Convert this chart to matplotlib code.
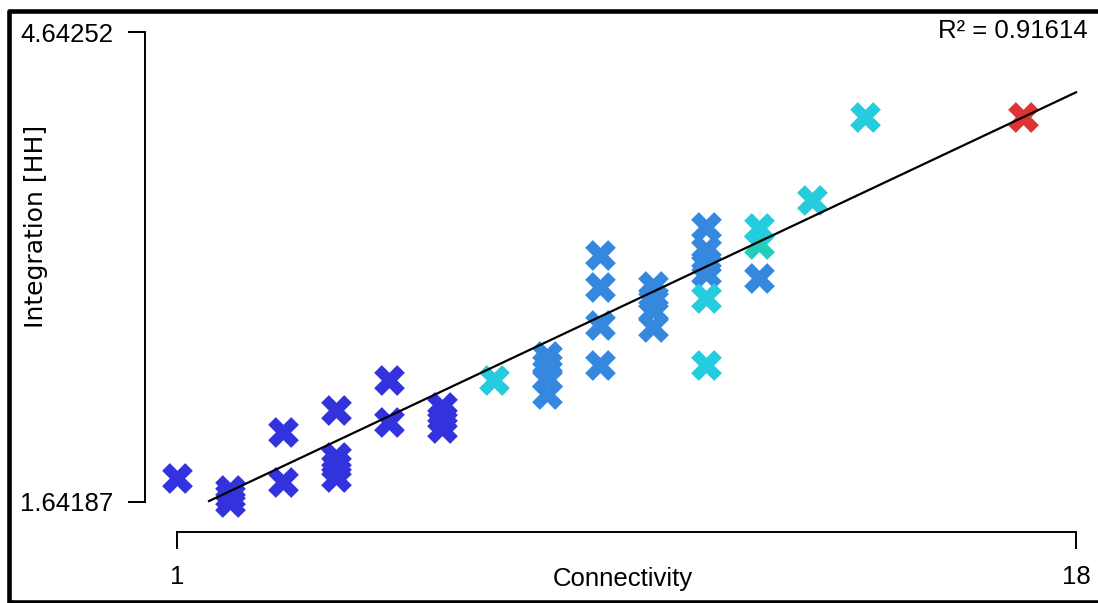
import matplotlib
matplotlib.use("Agg")
import matplotlib.pyplot as plt
from matplotlib.lines import Line2D

# data
conn = [1, 2, 2, 2, 3, 3, 4, 4, 4, 4, 5, 5, 6, 6, 6, 7,
        8, 8, 8, 8, 9, 9, 9, 9, 10, 10, 10, 10,
        11, 11, 11, 11, 11, 11, 12, 12, 12, 13, 14, 17]
integ = [1.793, 1.717, 1.680, 1.642, 2.089, 1.770, 2.228, 1.928, 1.870, 1.800,
         2.420, 2.153, 2.247, 2.177, 2.113, 2.420,
         2.573, 2.516, 2.433, 2.330, 3.219, 3.016, 2.771, 2.516,
         3.021, 2.944, 2.867, 2.759,
         3.398, 3.251, 3.174, 3.104, 2.944, 2.516, 3.391, 3.289, 3.075,
         3.570, 4.103, 4.103]
group = ["dark", "dark", "dark", "dark", "dark", "dark", "dark", "dark", "dark", "dark",
         "dark", "dark", "dark", "dark", "dark", "cyan",
         "blue", "blue", "blue", "blue", "blue", "blue", "blue", "blue",
         "blue", "blue", "blue", "blue",
         "blue", "blue", "blue", "blue", "cyan", "cyan", "cyan", "green", "blue",
         "cyan", "cyan", "red"]
group_colours = {"dark": "#3333dd", "blue": "#3588dd", "green": "#24ccbb",
                 "cyan": "#24ccdd", "red": "#dd3333"}
draw_order = ["dark", "blue", "green", "cyan", "red"]

# regression line end points
fit_x = [1.6, 18]
fit_y = [1.646, 4.259]
r2_text = "R\u00b2 = 0.91614"

y_min, y_max = 1.64187, 4.64252
x_min, x_max = 1, 18

narrow = ["Liberation Sans Narrow", "Liberation Sans", "DejaVu Sans"]

fig = plt.figure(figsize=(10.98, 6.03), dpi=100)
ax = fig.add_axes([177.3 / 1098, 1 - 501.7 / 603, (1076 - 177.3) / 1098, 469.4 / 603])

for g in draw_order:
    xs = [c for c, k in zip(conn, group) if k == g]
    ys = [v for v, k in zip(integ, group) if k == g]
    ax.scatter(xs, ys, marker="X", s=490, color=group_colours[g],
               linewidths=0, clip_on=False, zorder=2)

ax.plot(fit_x, fit_y, color="black", lw=1.6, clip_on=False, zorder=3)

ax.set_xlim(x_min, x_max)
ax.set_ylim(y_min, y_max)
ax.set_xticks([x_min, x_max])
ax.set_xticklabels(["1", "18"])
ax.set_yticks([y_min, y_max])
ax.set_yticklabels(["1.64187", "4.64252"])

for side in ["top", "right"]:
    ax.spines[side].set_visible(False)
ax.spines["left"].set_position(("outward", 23))
ax.spines["bottom"].set_position(("outward", 21.6))
ax.spines["left"].set_linewidth(1.4)
ax.spines["bottom"].set_linewidth(1.4)
ax.tick_params(axis="both", direction="out", length=12, width=1.4)
ax.tick_params(axis="y", pad=11)
ax.tick_params(axis="x", pad=12)
for lab in ax.get_xticklabels() + ax.get_yticklabels():
    lab.set_family(narrow)
    lab.set_fontsize(18.5)

fig.text(623 / 1098, 1 - 579 / 603, "Connectivity", ha="center", va="center",
         family=narrow, fontsize=18.5)
fig.text(36 / 1098, 1 - 226 / 603, "Integration [HH]", ha="center", va="center",
         rotation=90, family="DejaVu Sans", fontsize=18)
fig.text(1088 / 1098, 1 - 31 / 603, r2_text, ha="right", va="center",
         family=narrow, fontsize=18.5)

# outer frame (left, top, bottom)
W, H = 1098, 603
fx = [1098 / W, 9.3 / W, 9.3 / W, 1098 / W]
fy = [1 - 10.5 / H, 1 - 10.5 / H, 1 - 601.5 / H, 1 - 601.5 / H]
fig.add_artist(Line2D(fx, fy, transform=fig.transFigure, color="black", lw=3.3))

fig.savefig("out.png", dpi=100)
